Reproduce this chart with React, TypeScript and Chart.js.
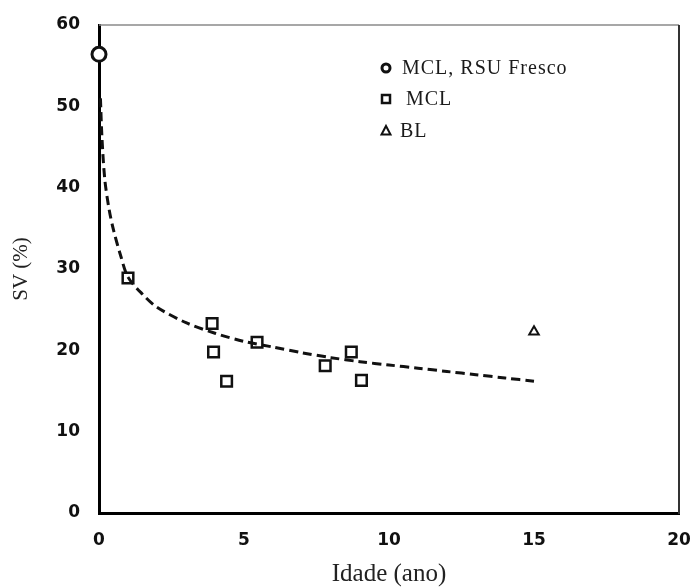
import React, { useEffect, useRef } from "react";
import { Chart, registerables } from "chart.js";

Chart.register(...registerables);

// Data
const freshX = [0];
const freshY = [56.4];

const mclX = [1.0, 3.9, 3.95, 4.4, 5.45, 7.8, 8.7, 9.05];
const mclY = [28.9, 23.3, 19.8, 16.2, 21.0, 18.1, 19.8, 16.3];

const blX = [15.0];
const blY = [22.3];

const trendX = [0.05, 0.1, 0.2, 0.35, 0.5, 0.75, 1, 1.5, 2, 3, 4, 5, 6, 7, 8, 9, 10, 11, 12, 13, 14, 15];
const trendY = [51.0, 46.3, 41.0, 37.3, 34.8, 31.6, 29.0, 26.9, 25.3, 23.4, 22.1, 21.1, 20.4, 19.7, 19.1, 18.6, 18.2, 17.8, 17.4, 17.0, 16.6, 16.2];

const xTicks = [0, 5, 10, 15, 20];
const yTicks = [0, 10, 20, 30, 40, 50, 60];

const legendLabels = ["MCL, RSU Fresco", " MCL", "BL"];

const zip = (xs: number[], ys: number[]) => xs.map((x, i) => ({ x, y: ys[i] }));

const frame = {
  id: "frame",
  afterDraw(chart: any) {
    const { ctx, chartArea } = chart;
    ctx.save();
    ctx.strokeStyle = "#8a8a8a";
    ctx.lineWidth = 1.5;
    ctx.beginPath();
    ctx.moveTo(chartArea.left, chartArea.top);
    ctx.lineTo(chartArea.right, chartArea.top);
    ctx.stroke();
    ctx.strokeStyle = "#333";
    ctx.lineWidth = 2;
    ctx.beginPath();
    ctx.moveTo(chartArea.right, chartArea.top);
    ctx.lineTo(chartArea.right, chartArea.bottom + 1);
    ctx.stroke();

    // legend
    const lx = 386;
    const ys = [68, 99, 131];
    ctx.strokeStyle = "#111";
    ctx.fillStyle = "#fff";
    ctx.lineWidth = 3;
    ctx.beginPath();
    ctx.arc(lx, ys[0], 4, 0, Math.PI * 2);
    ctx.fill();
    ctx.stroke();
    ctx.lineWidth = 2.5;
    ctx.strokeRect(lx - 4, ys[1] - 4, 8, 8);
    ctx.lineWidth = 2;
    ctx.beginPath();
    ctx.moveTo(lx, ys[2] - 5);
    ctx.lineTo(lx + 4.5, ys[2] + 3.5);
    ctx.lineTo(lx - 4.5, ys[2] + 3.5);
    ctx.closePath();
    ctx.stroke();
    ctx.fillStyle = "#1a1a1a";
    ctx.font = '20px "Liberation Serif"';
    (ctx as any).letterSpacing = "1px";
    ctx.textBaseline = "middle";
    ctx.textAlign = "left";
    ctx.fillText(legendLabels[0], 402, ys[0] + 1);
    ctx.fillText(legendLabels[1], 400, ys[1] + 1);
    ctx.fillText(legendLabels[2], 400, ys[2] + 1);
    ctx.restore();
  },
};

export default function App() {
  const ref = useRef<HTMLCanvasElement | null>(null);
  useEffect(() => {
    if (!ref.current) return;
    const chart = new Chart(ref.current, {
      type: "scatter",
      data: {
        datasets: [
          {
            label: "trend",
            data: zip(trendX, trendY),
            showLine: true,
            borderColor: "#111",
            borderWidth: 3,
            borderDash: [9, 5],
            pointRadius: 0,
            tension: 0.3,
            clip: false as any,
            order: 2,
          },
          {
            label: legendLabels[1],
            data: zip(mclX, mclY),
            pointStyle: "rect",
            pointRadius: 7.5,
            borderColor: "#111",
            backgroundColor: "rgba(255,255,255,0)",
            borderWidth: 2.5,
            clip: false as any,
            order: 1,
          },
          {
            label: legendLabels[2],
            data: zip(blX, blY),
            pointStyle: "triangle",
            pointRadius: 5.5,
            borderColor: "#111",
            backgroundColor: "rgba(255,255,255,0)",
            borderWidth: 2,
            clip: false as any,
            order: 1,
          },
          {
            label: legendLabels[0],
            data: zip(freshX, freshY),
            pointStyle: "circle",
            pointRadius: 7,
            borderColor: "#111",
            backgroundColor: "#fff",
            borderWidth: 3,
            clip: false as any,
            order: 0,
          },
        ],
      },
      options: {
        animation: false,
        responsive: false,
        layout: { padding: { left: 0, top: 25, right: 13, bottom: 0 } },
        plugins: { legend: { display: false }, tooltip: { enabled: false } },
        scales: {
          x: {
            type: "linear",
            min: 0,
            max: 20,
            afterBuildTicks: (s: any) => {
              s.ticks = xTicks.map((v) => ({ value: v }));
            },
            afterFit: (s: any) => {
              s.height = 74;
              s.paddingLeft = 0;
              s.paddingRight = 0;
            },
            grid: { display: false, drawTicks: false },
            border: { color: "#000", width: 3 },
            ticks: {
              padding: 17,
              color: "#111",
              font: { family: "DejaVu Sans", size: 17, weight: "bold" },
            },
            title: {
              display: true,
              text: "Idade (ano)",
              color: "#222",
              font: { family: "Liberation Serif", size: 25, lineHeight: 1 },
              padding: { top: 0, bottom: 0 },
            },
          },
          y: {
            type: "linear",
            min: 0,
            max: 60,
            afterBuildTicks: (s: any) => {
              s.ticks = yTicks.map((v) => ({ value: v }));
            },
            afterFit: (s: any) => {
              s.width = 99;
              s.paddingTop = 0;
              s.paddingBottom = 0;
            },
            grid: { display: false, drawTicks: false },
            border: { color: "#000", width: 3 },
            ticks: {
              padding: 19,
              color: "#111",
              font: { family: "DejaVu Sans", size: 17, weight: "bold" },
            },
            title: {
              display: true,
              text: "SV (%)",
              color: "#222",
              font: { family: "Liberation Serif", size: 21, lineHeight: 1 },
              padding: { top: 11, bottom: 0 },
            },
          },
        },
      },
      plugins: [frame],
    } as any);
    return () => chart.destroy();
  }, []);
  return (
    <div style={{ position: "absolute", left: 0, top: 0, width: 692, height: 587, background: "#fff" }}>
      <canvas ref={ref} width={692} height={587} style={{ display: "block" }} />
    </div>
  );
}
